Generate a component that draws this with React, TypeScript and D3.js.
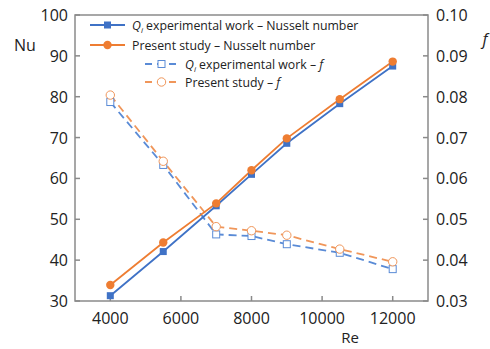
import React from "react";
import * as d3 from "d3";

const re = [4000, 5500, 7000, 8000, 9000, 10500, 12000];
const nuExp = [31.3, 42.1, 53.3, 61.0, 68.6, 78.3, 87.5];
const nuPresent = [33.9, 44.3, 53.9, 62.0, 69.8, 79.4, 88.6];
const fExp = [0.0787, 0.0633, 0.0463, 0.0459, 0.0439, 0.0418, 0.0378];
const fPresent = [0.0804, 0.0642, 0.0482, 0.0472, 0.0461, 0.0427, 0.0396];
const xTicks = [4000, 6000, 8000, 10000, 12000];
const nuTicks = [30, 40, 50, 60, 70, 80, 90, 100];
const fTicks = [0.03, 0.04, 0.05, 0.06, 0.07, 0.08, 0.09, 0.1];

const BLUE = "#3F72C6";
const ORANGE = "#EE7D32";
const BLUE_L = "#5A8BD6";
const ORANGE_L = "#F0965A";
const AXIS = "#8a8a8a";
const FONT = "'Open Sans', sans-serif";

export default function App() {
  const W = 490, H = 349;
  const L = 75, R = 428, T = 15, B = 301;
  const x = d3.scaleLinear().domain([3000, 13000]).range([L, R]);
  const yNu = d3.scaleLinear().domain([30, 100]).range([B, T]);
  const yF = d3.scaleLinear().domain([0.03, 0.1]).range([B, T]);

  const lineNu = d3.line<number>().x((_, i) => x(re[i])).y((d) => yNu(d));
  const lineF = d3.line<number>().x((_, i) => x(re[i])).y((d) => yF(d));

  const sq = 7;
  const legendRows = [
    { x0: 90, x1: 125, y: 25, color: BLUE, dashed: false, marker: "sq", label: "exp", suffix: "Nusselt number" },
    { x0: 90, x1: 125, y: 45, color: ORANGE, dashed: false, marker: "ci", label: "present", suffix: "Nusselt number" },
    { x0: 145, x1: 178, y: 64, color: BLUE_L, dashed: true, marker: "osq", label: "exp", suffix: "f" },
    { x0: 145, x1: 178, y: 82, color: ORANGE_L, dashed: true, marker: "oci", label: "present", suffix: "f" },
  ];

  const marker = (kind: string, cx: number, cy: number, color: string, key: any) => {
    if (kind === "sq")
      return <rect key={key} x={cx - sq / 2} y={cy - sq / 2} width={sq} height={sq} fill={color} />;
    if (kind === "ci") return <circle key={key} cx={cx} cy={cy} r={4.2} fill={color} />;
    if (kind === "osq")
      return <rect key={key} x={cx - sq / 2} y={cy - sq / 2} width={sq} height={sq} fill="#fff" stroke={color} strokeWidth={1} />;
    return <circle key={key} cx={cx} cy={cy} r={4.2} fill="#fff" stroke={color} strokeWidth={1} />;
  };

  return (
    <svg width={W} height={H} style={{ position: "absolute", left: 0, top: 0, fontFamily: FONT }}>
      <rect x={0} y={0} width={W} height={H} fill="#fff" />
      {/* frame */}
      <rect x={L} y={T} width={R - L} height={B - T} fill="none" stroke={AXIS} strokeWidth={1.5} />
      {/* ticks */}
      {xTicks.map((t) => (
        <g key={"x" + t}>
          <line x1={x(t)} x2={x(t)} y1={B} y2={B - 5} stroke={AXIS} strokeWidth={1.5} />
          <text x={x(t)} y={B + 23} textAnchor="middle" fontSize={16} fill="#222">{t}</text>
        </g>
      ))}
      {nuTicks.map((t) => (
        <g key={"n" + t}>
          <line x1={L} x2={L + 5} y1={yNu(t)} y2={yNu(t)} stroke={AXIS} strokeWidth={1.5} />
          <text x={L - 7} y={yNu(t) + 6} textAnchor="end" fontSize={16} fill="#222">{t}</text>
        </g>
      ))}
      {fTicks.map((t) => (
        <g key={"f" + t}>
          <line x1={R} x2={R - 5} y1={yF(t)} y2={yF(t)} stroke={AXIS} strokeWidth={1.5} />
          <text x={R + 8} y={yF(t) + 6} textAnchor="start" fontSize={16} fill="#222">{t.toFixed(2)}</text>
        </g>
      ))}
      <text x={25} y={51} textAnchor="middle" fontSize={16} fill="#222">Nu</text>
      <text x={485} y={45} textAnchor="middle" fontSize={16} fontStyle="italic" fill="#222">f</text>
      <text x={350} y={343} textAnchor="middle" fontSize={15} fill="#222">Re</text>

      {/* f dashed lines */}
      <path d={lineF(fExp) || ""} fill="none" stroke={BLUE_L} strokeWidth={1.8} strokeDasharray="8,5" />
      <path d={lineF(fPresent) || ""} fill="none" stroke={ORANGE_L} strokeWidth={1.8} strokeDasharray="8,5" />
      {fExp.map((d, i) => marker("osq", x(re[i]), yF(d), BLUE_L, "fe" + i))}
      {fPresent.map((d, i) => marker("oci", x(re[i]), yF(d), ORANGE_L, "fp" + i))}

      {/* Nu solid lines */}
      <path d={lineNu(nuExp) || ""} fill="none" stroke={BLUE} strokeWidth={1.8} />
      <path d={lineNu(nuPresent) || ""} fill="none" stroke={ORANGE} strokeWidth={1.8} />
      {nuExp.map((d, i) => marker("sq", x(re[i]), yNu(d), BLUE, "ne" + i))}
      {nuPresent.map((d, i) => marker("ci", x(re[i]), yNu(d), ORANGE, "np" + i))}

      {/* legend */}
      {legendRows.map((r, i) => (
        <g key={"lg" + i}>
          <line x1={r.x0} x2={r.x1} y1={r.y} y2={r.y} stroke={r.color} strokeWidth={1.8} strokeDasharray={r.dashed ? "7,5" : undefined} />
          {marker(r.marker, (r.x0 + r.x1) / 2, r.y, r.color, "lm" + i)}
          <text x={r.x1 + 7} y={r.y + 4.5} fontSize={12.3} fill="#222">
            {r.label === "exp" ? (
              <>
                <tspan fontStyle="italic">Q</tspan>
                <tspan fontSize={8} dy={3} fontStyle="italic">i</tspan>
                <tspan dy={-3}> experimental work – </tspan>
              </>
            ) : (
              <tspan>Present study – </tspan>
            )}
            {r.suffix === "f" ? <tspan fontStyle="italic">f</tspan> : <tspan>{r.suffix}</tspan>}
          </text>
        </g>
      ))}
    </svg>
  );
}
